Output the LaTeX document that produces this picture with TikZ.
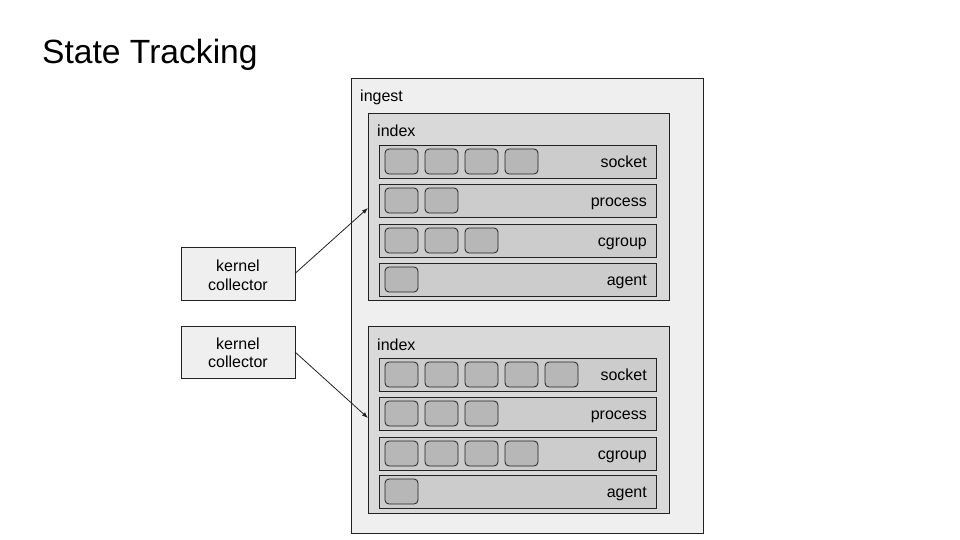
\documentclass[tikz,border=0pt]{standalone}
\usepackage{fontspec}
\setmainfont{Liberation Sans}
\usetikzlibrary{arrows.meta}
\definecolor{lightbg}{HTML}{EFEFEF}
\definecolor{idxbg}{HTML}{D9D9D9}
\definecolor{rowbg}{HTML}{CCCCCC}
\definecolor{cellbg}{HTML}{B7B7B7}
\definecolor{edge}{HTML}{222222}
\begin{document}
\begin{tikzpicture}[x=1pt,y=-1pt,
  box/.style={draw=edge, line width=0.8pt, anchor=north west, inner sep=0pt, outer sep=0pt},
  lbl/.style={font=\fontsize{16}{18.5}\selectfont, inner sep=0pt},
  cellbox/.style={box, fill=cellbg, rounded corners=4pt, minimum width=33pt, minimum height=25pt},
  rowbox/.style={box, fill=rowbg, minimum width=277pt, minimum height=33pt},
  arr/.style={draw=edge, line width=0.8pt, -{Latex[length=6pt,width=4.5pt]}}]
\useasboundingbox[fill=white] (0,0) rectangle (960,540);
\node[anchor=base west, inner sep=0pt, font=\fontsize{33.6}{40}\selectfont] (title) at (42,64) {State Tracking};
% ingest
\node[box, fill=lightbg, minimum width=352pt, minimum height=455pt] (ingest) at (351,78) {};
\node[lbl, anchor=base west] (ingestlbl) at (360,102) {ingest};
% index A
\node[box, fill=idxbg, minimum width=301pt, minimum height=187pt] (idxA) at (368,113) {};
\node[lbl, anchor=base west] (idxAlbl) at (377,137) {index};
% index B
\node[box, fill=idxbg, minimum width=301pt, minimum height=187pt] (idxB) at (368,326) {};
\node[lbl, anchor=base west] (idxBlbl) at (377,350) {index};
% rows
\foreach \g/\y/\t/\n in {A/145/socket/4, A/184/process/2, A/224/cgroup/3, A/263/agent/1,
                         B/358/socket/5, B/397/process/3, B/437/cgroup/4, B/475/agent/1}{
  \node[rowbox] (\g\t) at (379,\y) {};
  \node[lbl, anchor=base east] (\g\t lbl) at ([xshift=-9pt,yshift=-6pt]\g\t.east) {\t};
  \foreach \i in {1,...,\n}{
    \node[cellbox] (\g\t c\i) at ({385+40*(\i-1)},{\y+4}) {};
  }
}
% kernel collectors
\node[box, fill=lightbg, minimum width=114pt, minimum height=53pt] (kc1) at (181,247) {};
\node[lbl, align=center] (kc1lbl) at ([yshift=-2pt]kc1.center) {kernel\\collector};
\node[box, fill=lightbg, minimum width=114pt, minimum height=52pt] (kc2) at (181,326) {};
\node[lbl, align=center] (kc2lbl) at ([yshift=-1pt]kc2.center) {kernel\\collector};
\coordinate (tipA) at (368,208);
\coordinate (tipB) at (368,418);
\draw[arr] (kc1.east) -- (tipA);
\draw[arr] (kc2.east) -- (tipB);
\end{tikzpicture}
\end{document}
